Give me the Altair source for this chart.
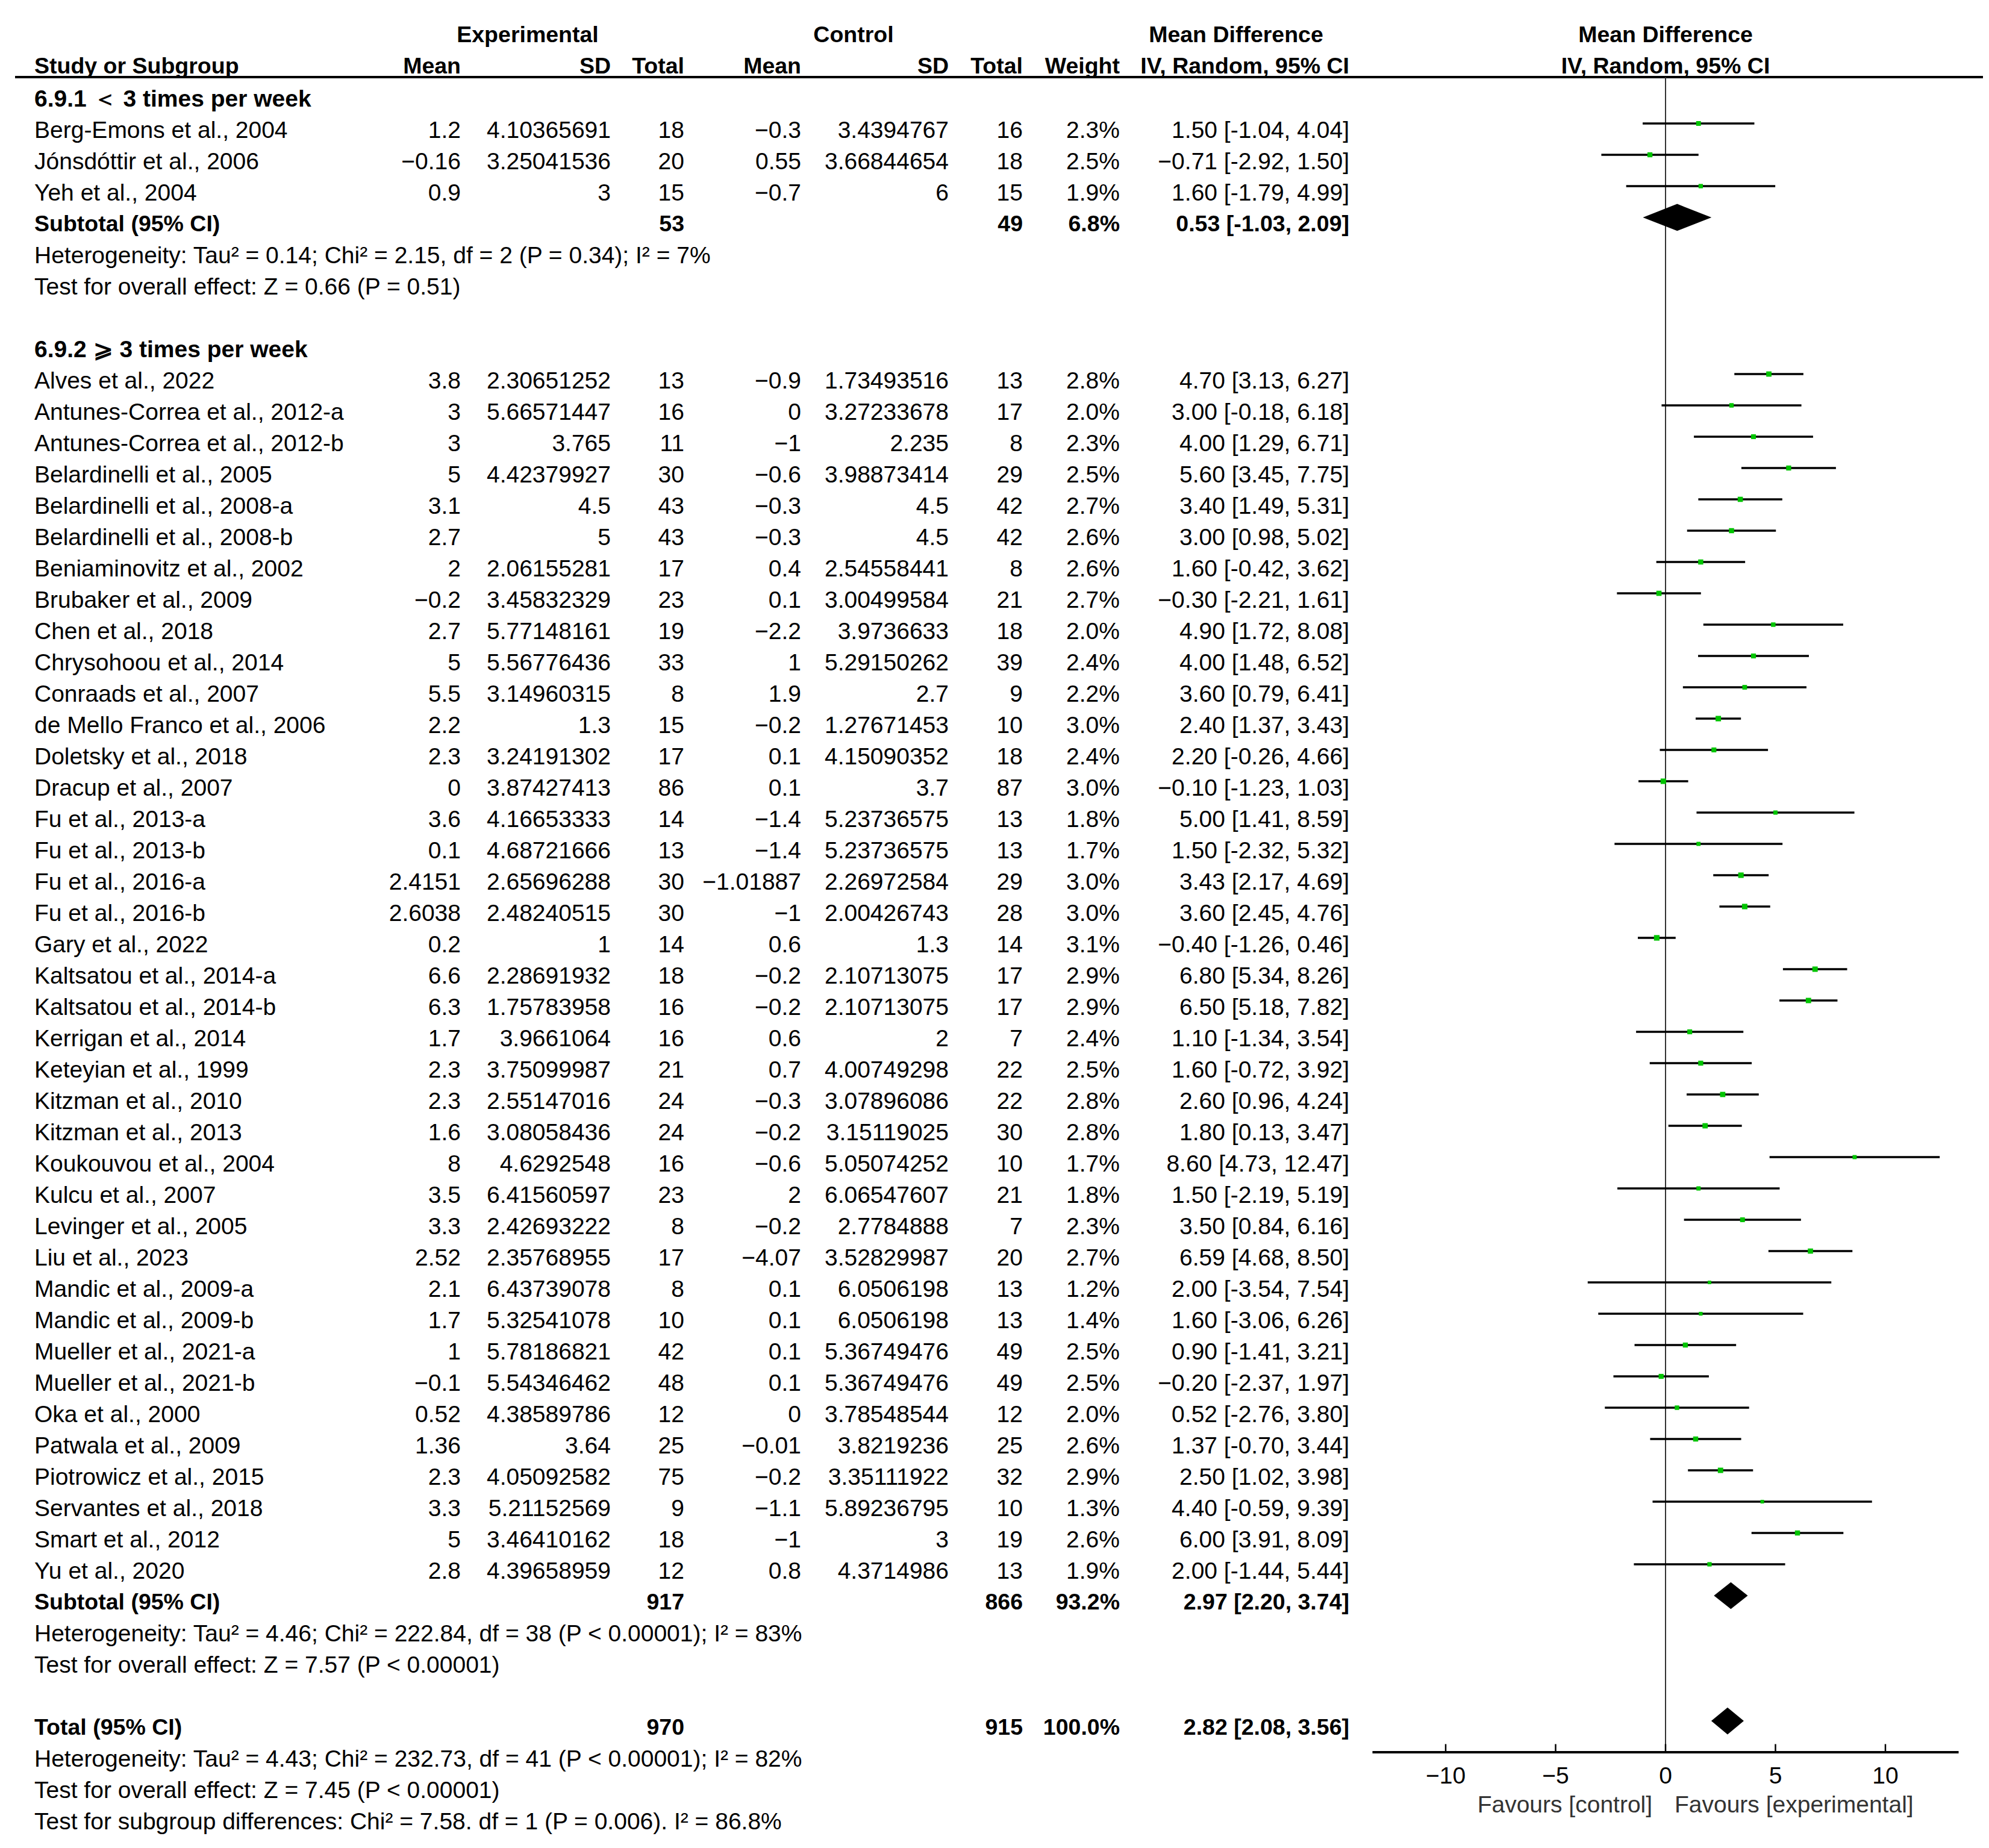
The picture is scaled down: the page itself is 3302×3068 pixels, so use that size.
import altair as alt
import pandas as pd

# ---------------- data ----------------
g1_header = "6.9.1 \uFF1C 3 times per week"
g1_studies = ["Berg-Emons et al., 2004", "Jónsdóttir et al., 2006", "Yeh et al., 2004"]
g1_exp_mean = [1.2, -0.16, 0.9]
g1_exp_sd = [4.10365691, 3.25041536, 3]
g1_exp_n = [18, 20, 15]
g1_ctl_mean = [-0.3, 0.55, -0.7]
g1_ctl_sd = [3.4394767, 3.66844654, 6]
g1_ctl_n = [16, 18, 15]
g1_weight = [2.3, 2.5, 1.9]
g1_md = [1.50, -0.71, 1.60]
g1_lo = [-1.04, -2.92, -1.79]
g1_hi = [4.04, 1.50, 4.99]

g2_header = "6.9.2 \u2A7E 3 times per week"
g2_studies = [
    "Alves et al., 2022", "Antunes-Correa et al., 2012-a", "Antunes-Correa et al., 2012-b",
    "Belardinelli et al., 2005", "Belardinelli et al., 2008-a", "Belardinelli et al., 2008-b",
    "Beniaminovitz et al., 2002", "Brubaker et al., 2009", "Chen et al., 2018",
    "Chrysohoou et al., 2014", "Conraads et al., 2007", "de Mello Franco et al., 2006",
    "Doletsky et al., 2018", "Dracup et al., 2007", "Fu et al., 2013-a", "Fu et al., 2013-b",
    "Fu et al., 2016-a", "Fu et al., 2016-b", "Gary et al., 2022", "Kaltsatou et al., 2014-a",
    "Kaltsatou et al., 2014-b", "Kerrigan et al., 2014", "Keteyian et al., 1999",
    "Kitzman et al., 2010", "Kitzman et al., 2013", "Koukouvou et al., 2004", "Kulcu et al., 2007",
    "Levinger et al., 2005", "Liu et al., 2023", "Mandic et al., 2009-a", "Mandic et al., 2009-b",
    "Mueller et al., 2021-a", "Mueller et al., 2021-b", "Oka et al., 2000", "Patwala et al., 2009",
    "Piotrowicz et al., 2015", "Servantes et al., 2018", "Smart et al., 2012", "Yu et al., 2020",
]
g2_exp_mean = [3.8, 3, 3, 5, 3.1, 2.7, 2, -0.2, 2.7, 5, 5.5, 2.2, 2.3, 0, 3.6, 0.1, 2.4151, 2.6038,
               0.2, 6.6, 6.3, 1.7, 2.3, 2.3, 1.6, 8, 3.5, 3.3, 2.52, 2.1, 1.7, 1, -0.1, 0.52, 1.36,
               2.3, 3.3, 5, 2.8]
g2_exp_sd = [2.30651252, 5.66571447, 3.765, 4.42379927, 4.5, 5, 2.06155281, 3.45832329, 5.77148161,
             5.56776436, 3.14960315, 1.3, 3.24191302, 3.87427413, 4.16653333, 4.68721666,
             2.65696288, 2.48240515, 1, 2.28691932, 1.75783958, 3.9661064, 3.75099987, 2.55147016,
             3.08058436, 4.6292548, 6.41560597, 2.42693222, 2.35768955, 6.43739078, 5.32541078,
             5.78186821, 5.54346462, 4.38589786, 3.64, 4.05092582, 5.21152569, 3.46410162,
             4.39658959]
g2_exp_n = [13, 16, 11, 30, 43, 43, 17, 23, 19, 33, 8, 15, 17, 86, 14, 13, 30, 30, 14, 18, 16, 16,
            21, 24, 24, 16, 23, 8, 17, 8, 10, 42, 48, 12, 25, 75, 9, 18, 12]
g2_ctl_mean = [-0.9, 0, -1, -0.6, -0.3, -0.3, 0.4, 0.1, -2.2, 1, 1.9, -0.2, 0.1, 0.1, -1.4, -1.4,
               -1.01887, -1, 0.6, -0.2, -0.2, 0.6, 0.7, -0.3, -0.2, -0.6, 2, -0.2, -4.07, 0.1, 0.1,
               0.1, 0.1, 0, -0.01, -0.2, -1.1, -1, 0.8]
g2_ctl_sd = [1.73493516, 3.27233678, 2.235, 3.98873414, 4.5, 4.5, 2.54558441, 3.00499584, 3.9736633,
             5.29150262, 2.7, 1.27671453, 4.15090352, 3.7, 5.23736575, 5.23736575, 2.26972584,
             2.00426743, 1.3, 2.10713075, 2.10713075, 2, 4.00749298, 3.07896086, 3.15119025,
             5.05074252, 6.06547607, 2.7784888, 3.52829987, 6.0506198, 6.0506198, 5.36749476,
             5.36749476, 3.78548544, 3.8219236, 3.35111922, 5.89236795, 3, 4.3714986]
g2_ctl_n = [13, 17, 8, 29, 42, 42, 8, 21, 18, 39, 9, 10, 18, 87, 13, 13, 29, 28, 14, 17, 17, 7, 22,
            22, 30, 10, 21, 7, 20, 13, 13, 49, 49, 12, 25, 32, 10, 19, 13]
g2_weight = [2.8, 2.0, 2.3, 2.5, 2.7, 2.6, 2.6, 2.7, 2.0, 2.4, 2.2, 3.0, 2.4, 3.0, 1.8, 1.7, 3.0, 3.0,
             3.1, 2.9, 2.9, 2.4, 2.5, 2.8, 2.8, 1.7, 1.8, 2.3, 2.7, 1.2, 1.4, 2.5, 2.5, 2.0, 2.6, 2.9,
             1.3, 2.6, 1.9]
g2_md = [4.70, 3.00, 4.00, 5.60, 3.40, 3.00, 1.60, -0.30, 4.90, 4.00, 3.60, 2.40, 2.20, -0.10, 5.00,
         1.50, 3.43, 3.60, -0.40, 6.80, 6.50, 1.10, 1.60, 2.60, 1.80, 8.60, 1.50, 3.50, 6.59, 2.00,
         1.60, 0.90, -0.20, 0.52, 1.37, 2.50, 4.40, 6.00, 2.00]
g2_lo = [3.13, -0.18, 1.29, 3.45, 1.49, 0.98, -0.42, -2.21, 1.72, 1.48, 0.79, 1.37, -0.26, -1.23,
         1.41, -2.32, 2.17, 2.45, -1.26, 5.34, 5.18, -1.34, -0.72, 0.96, 0.13, 4.73, -2.19, 0.84,
         4.68, -3.54, -3.06, -1.41, -2.37, -2.76, -0.70, 1.02, -0.59, 3.91, -1.44]
g2_hi = [6.27, 6.18, 6.71, 7.75, 5.31, 5.02, 3.62, 1.61, 8.08, 6.52, 6.41, 3.43, 4.66, 1.03, 8.59,
         5.32, 4.69, 4.76, 0.46, 8.26, 7.82, 3.54, 3.92, 4.24, 3.47, 12.47, 5.19, 6.16, 8.50, 7.54,
         6.26, 3.21, 1.97, 3.80, 3.44, 3.98, 9.39, 8.09, 5.44]

summary_labels = ["Subtotal (95% CI)", "Subtotal (95% CI)", "Total (95% CI)"]
summary_exp_n = [53, 917, 970]
summary_ctl_n = [49, 866, 915]
summary_weight = [6.8, 93.2, 100.0]
summary_md = [0.53, 2.97, 2.82]
summary_lo = [-1.03, 2.20, 2.08]
summary_hi = [2.09, 3.74, 3.56]

notes_g1 = ["Heterogeneity: Tau\u00b2 = 0.14; Chi\u00b2 = 2.15, df = 2 (P = 0.34); I\u00b2 = 7%",
            "Test for overall effect: Z = 0.66 (P = 0.51)"]
notes_g2 = ["Heterogeneity: Tau\u00b2 = 4.46; Chi\u00b2 = 222.84, df = 38 (P < 0.00001); I\u00b2 = 83%",
            "Test for overall effect: Z = 7.57 (P < 0.00001)"]
notes_total = ["Heterogeneity: Tau\u00b2 = 4.43; Chi\u00b2 = 232.73, df = 41 (P < 0.00001); I\u00b2 = 82%",
               "Test for overall effect: Z = 7.45 (P < 0.00001)",
               "Test for subgroup differences: Chi\u00b2 = 7.58. df = 1 (P = 0.006). I\u00b2 = 86.8%"]

axis_ticks = [-10, -5, 0, 5, 10]
axis_extent = [-13.33, 13.33]
favours_left = "Favours [control]"
favours_right = "Favours [experimental]"

# ---------------- layout ----------------
W, H = 3284, 3050
FONT = "Liberation Sans"
SIZES = {"n": (39, "normal"), "b": (37.5, "bold"), "g": (39, "bold")}
DY = 12
XSCALE = alt.Scale(domain=[-75.534, 14.438], nice=False, zero=False)
YSCALE = alt.Scale(domain=[-2.788, 55.865], reverse=True, nice=False, zero=False)

COLS = {
    "study": (49, "left"), "em": (757, "right"), "esd": (1006, "right"), "en": (1128, "right"),
    "cm": (1322, "right"), "csd": (1567, "right"), "cn": (1690, "right"), "w": (1851, "right"),
    "ci": (2232, "right"), "exp_hdr": (868, "center"), "ctl_hdr": (1409, "center"),
    "md_hdr": (2044, "center"),
}


def fnum(v):
    s = ("%.10f" % v).rstrip("0").rstrip(".")
    return s.replace("-", "\u2212")


def fci(md, lo, hi):
    return f"{md:.2f}".replace("-", "\u2212") + f" [{lo:.2f}, {hi:.2f}]"


texts = []


def add(row, col, text, style="n"):
    texts.append({"row": row, "col": col, "text": text, "style": style})


# header
add(-2.03, "exp_hdr", "Experimental", "b")
add(-2.03, "ctl_hdr", "Control", "b")
add(-2.03, "md_hdr", "Mean Difference", "b")
for c, t in [("study", "Study or Subgroup"), ("em", "Mean"), ("esd", "SD"), ("en", "Total"),
             ("cm", "Mean"), ("csd", "SD"), ("cn", "Total"), ("w", "Weight"),
             ("ci", "IV, Random, 95% CI")]:
    add(-1.04, c, t, "b")

forest = []


def add_group(start, header, studies, em, esd, en, cm, csd, cn, w, md, lo, hi):
    add(start, "study", header, "g")
    for i, s in enumerate(studies):
        r = start + 1 + i
        add(r, "study", s)
        add(r, "em", fnum(em[i]))
        add(r, "esd", fnum(esd[i]))
        add(r, "en", str(en[i]))
        add(r, "cm", fnum(cm[i]))
        add(r, "csd", fnum(csd[i]))
        add(r, "cn", str(cn[i]))
        add(r, "w", f"{w[i]:.1f}%")
        add(r, "ci", fci(md[i], lo[i], hi[i]))
        forest.append({"row": r, "md": md[i], "lo": lo[i], "hi": hi[i], "w": w[i]})
    return start + 1 + len(studies)


r1 = add_group(0, g1_header, g1_studies, g1_exp_mean, g1_exp_sd, g1_exp_n, g1_ctl_mean,
               g1_ctl_sd, g1_ctl_n, g1_weight, g1_md, g1_lo, g1_hi)
r2 = add_group(r1 + 4, g2_header, g2_studies, g2_exp_mean, g2_exp_sd, g2_exp_n, g2_ctl_mean,
               g2_ctl_sd, g2_ctl_n, g2_weight, g2_md, g2_lo, g2_hi)
r3 = r2 + 4
summary_rows = [r1, r2, r3]
for k, r in enumerate(summary_rows):
    add(r, "study", summary_labels[k], "b")
    add(r, "en", str(summary_exp_n[k]), "b")
    add(r, "cn", str(summary_ctl_n[k]), "b")
    add(r, "w", f"{summary_weight[k]:.1f}%", "b")
    add(r, "ci", fci(summary_md[k], summary_lo[k], summary_hi[k]), "b")
for j, t in enumerate(notes_g1):
    add(r1 + 1 + j, "study", t)
for j, t in enumerate(notes_g2):
    add(r2 + 1 + j, "study", t)
for j, t in enumerate(notes_total):
    add(r3 + 1 + j, "study", t)

text_df = pd.DataFrame(texts)
forest_df = pd.DataFrame(forest)

layers = []

# table text
for col, (px, align) in COLS.items():
    for style, (fs, fw) in SIZES.items():
        sub = text_df[(text_df["col"] == col) & (text_df["style"] == style)]
        if len(sub) == 0:
            continue
        layers.append(
            alt.Chart(sub).mark_text(
                align=align, baseline="middle", dy=DY, font=FONT,
                fontSize=fs, fontWeight=fw, color="#000000",
            ).encode(
                x=alt.value(px),
                y=alt.Y("row:Q", scale=YSCALE, axis=None),
                text="text:N",
            )
        )

# top header rule
top_df = pd.DataFrame({"y": [-0.48]})
layers.append(
    alt.Chart(top_df).mark_rule(color="#000000", strokeWidth=4).encode(
        x=alt.value(17), x2=alt.value(W), y=alt.Y("y:Q", scale=YSCALE, axis=None)
    )
)

# plot headers centred on zero
ph_df = pd.DataFrame({"x": [0, 0], "row": [-2.03, -1.04],
                      "text": ["Mean Difference", "IV, Random, 95% CI"]})
layers.append(
    alt.Chart(ph_df).mark_text(align="center", baseline="middle", dy=DY, font=FONT,
                               fontSize=SIZES["b"][0], fontWeight="bold",
                               color="#000000").encode(
        x=alt.X("x:Q", scale=XSCALE, axis=None),
        y=alt.Y("row:Q", scale=YSCALE, axis=None),
        text="text:N",
    )
)

# zero line
zero_df = pd.DataFrame({"x": [0], "y0": [-0.48], "y1": [53.0]})
layers.append(
    alt.Chart(zero_df).mark_rule(color="#333333", strokeWidth=2).encode(
        x=alt.X("x:Q", scale=XSCALE, axis=None),
        y=alt.Y("y0:Q", scale=YSCALE, axis=None), y2="y1:Q",
    )
)

# CI lines
layers.append(
    alt.Chart(forest_df).mark_rule(color="#000000", strokeWidth=3.5).encode(
        x=alt.X("lo:Q", scale=XSCALE, axis=None), x2="hi:Q",
        y=alt.Y("row:Q", scale=YSCALE, axis=None),
    )
)
# point estimates
layers.append(
    alt.Chart(forest_df).mark_square(color="#00c400", filled=True, opacity=1).encode(
        x=alt.X("md:Q", scale=XSCALE, axis=None),
        y=alt.Y("row:Q", scale=YSCALE, axis=None),
        size=alt.Size("w:Q", scale=alt.Scale(domain=[0, 3.1], range=[0, 85]), legend=None),
    )
)

# diamonds
HALF = 0.43
dia = []
for k, r in enumerate(summary_rows):
    dia.append({"id": k, "x": summary_lo[k], "y": r, "y2": r})
    dia.append({"id": k, "x": summary_md[k], "y": r - HALF, "y2": r + HALF})
    dia.append({"id": k, "x": summary_hi[k], "y": r, "y2": r})
dia_df = pd.DataFrame(dia)
layers.append(
    alt.Chart(dia_df).mark_area(color="#000000", opacity=1, orient="vertical").encode(
        x=alt.X("x:Q", scale=XSCALE, axis=None),
        y=alt.Y("y:Q", scale=YSCALE, axis=None), y2="y2:Q",
        detail="id:N",
    )
)

# axis line, ticks and labels
AXIS_ROW = 53.0
ax_df = pd.DataFrame({"x0": [axis_extent[0]], "x1": [axis_extent[1]], "y": [AXIS_ROW]})
layers.append(
    alt.Chart(ax_df).mark_rule(color="#000000", strokeWidth=4).encode(
        x=alt.X("x0:Q", scale=XSCALE, axis=None), x2="x1:Q",
        y=alt.Y("y:Q", scale=YSCALE, axis=None),
    )
)
tick_df = pd.DataFrame({"x": axis_ticks, "y0": [AXIS_ROW] * len(axis_ticks),
                        "y1": [AXIS_ROW - 0.26] * len(axis_ticks),
                        "label": [fnum(v) for v in axis_ticks],
                        "lrow": [53.54] * len(axis_ticks)})
layers.append(
    alt.Chart(tick_df).mark_rule(color="#000000", strokeWidth=2.5).encode(
        x=alt.X("x:Q", scale=XSCALE, axis=None),
        y=alt.Y("y0:Q", scale=YSCALE, axis=None), y2="y1:Q",
    )
)
layers.append(
    alt.Chart(tick_df).mark_text(align="center", baseline="middle", dy=DY, font=FONT,
                                 fontSize=SIZES["n"][0], color="#000000").encode(
        x=alt.X("x:Q", scale=XSCALE, axis=None),
        y=alt.Y("lrow:Q", scale=YSCALE, axis=None),
        text="label:N",
    )
)
fav_df = pd.DataFrame({"x": [-0.6], "row": [54.46], "text": [favours_left]})
fav_df2 = pd.DataFrame({"x": [0.41], "row": [54.46], "text": [favours_right]})
for d, al in [(fav_df, "right"), (fav_df2, "left")]:
    layers.append(
        alt.Chart(d).mark_text(align=al, baseline="middle", dy=DY, font=FONT,
                               fontSize=SIZES["n"][0], color="#333333").encode(
            x=alt.X("x:Q", scale=XSCALE, axis=None),
            y=alt.Y("row:Q", scale=YSCALE, axis=None),
            text="text:N",
        )
    )

chart = alt.layer(*layers).properties(
    width=W, height=H, padding=0,
    autosize=alt.AutoSizeParams(type="none"),
    background="#ffffff",
).configure_view(strokeWidth=0)

chart.save("out.html", embed_options={"renderer": "svg", "actions": False})
